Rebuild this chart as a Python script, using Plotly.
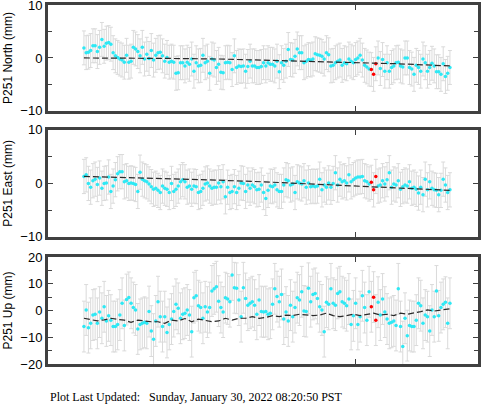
import plotly.graph_objects as go

# daily GPS solutions for station P251, day index from first epoch
n_days = 164
days = list(range(n_days))
flagged = [128, 129, 130]  # outlier epochs drawn in red

north = [
    1.9, 1.0, 1.1, 1.4, 2.3, 2.3, 1.2, 2.0, 3.5, 2.2,
    2.8, 2.9, 2.6, 1.0, 0.4, 0.1, -0.2, -0.4, -0.8, 0.5,
    -0.8, -0.6, 2.0, 1.7, 1.2, 0.4, 2.0, -0.2, 0.7, -0.1,
    1.4, -0.4, 0.5, 1.0, 1.1, 0.4, -0.6, 0.1, -0.8, -0.6,
    -0.8, -2.9, -2.8, -0.9, -0.9, -1.5, -0.8, -1.2, -0.2, -2.5,
    -0.9, -1.5, -1.4, 0.5, -0.9, -0.6, -2.9, -0.2, -0.4, -1.8,
    -1.2, -2.7, -2.8, -0.9, -0.8, -0.9, -2.2, 0.4, -1.8, -1.5,
    -1.6, -1.5, -2.5, -1.6, -0.6, -1.5, -1.5, -1.8, -1.8, -1.6,
    -0.9, -1.5, -0.9,
    -1.2, -1.2, -1.5, -0.6, -2.6, -0.9, -1.4, -0.6, 1.6, -0.3,
    -0.4, 0.3, 1.7, 1.0, 1.0, -0.9, -0.6, -0.3, -0.4, -0.2,
    0.8, 0.6, 0.5, 0.3, -0.2, 1.0, 0.6, -1.5, -1.4, -0.9,
    -0.6, -0.4, -1.4, -0.9, -1.1, -0.2, -0.6, -0.9, -0.3, 0.0,
    0.5, -0.4, -1.4, -1.7, -2.1,
    -2.2, -3.1, -1.1,
    0.0, -2.0, -0.3, -2.5, -0.9, -2.5, -1.8, -1.5, -0.9, -0.8,
    -1.5, -1.7, 0.0, 0.0, -1.8, -2.1, -3.1, -1.4, -1.8, -2.5,
    -0.2, -0.9, -2.5, -1.8, -1.0, -1.5, -2.6, -2.6, -3.1, -1.1,
    -3.5, -2.9, -1.8,
]

east = [
    1.3, 1.6, 0.0, -0.7, 0.5, 0.8, -0.2, 1.0, -0.9, 0.0,
    0.1, 1.2, -1.5, -0.5, 0.7, 1.8, 2.2, 2.2, 0.3, 0.5,
    0.0, 0.1, 0.0, -0.2, -1.5, 2.1, 0.8, 0.5, 0.3, -0.1,
    -0.6, -1.1, -0.9, -1.3, -1.7, -0.5, -0.9, -1.1, -1.7, 0.0,
    -1.5, -1.1, -0.5, 0.3, 0.7, 0.3, -0.7, -0.5, -1.1, -0.5,
    -0.6, -1.7, -1.5, -0.9, -0.1, 0.1, -0.5, -0.9, -0.7, -0.7,
    0.1, -0.6, 0.3, -2.5, -0.7, -1.7, -1.5, -0.6, -1.7, -0.9,
    0.1, 0.0, -1.5, -0.3, -0.9, -0.3, -0.6, -1.2, -1.1, -0.3,
    -1.7, -2.8, -1.3,
    -0.5, -0.6, -0.3, -1.2, -1.5, -1.5, -0.3, 0.7, 0.5, -0.3,
    -0.1, -1.7, 0.3, 0.1, -0.1, 0.5, -0.7, 0.1, -0.6, -0.5,
    -0.6, -0.5, 0.8, -1.2, -0.3, -0.7, 0.1, -0.7, 0.0, 2.0,
    -0.3, 0.8, 0.3, 0.5, 0.1, 1.6, 0.3, 0.7, 1.0, 1.2,
    1.2, 1.3, 0.5, 0.3, -0.1,
    0.2, -1.2, 1.3,
    -0.5, -0.3, 0.5, -0.1, 0.7, 2.0, -0.7, -0.1, -0.3, 0.5,
    -1.1, -0.6, -0.3, -0.5, 0.3, -0.9, -0.7, -1.1, -1.8, -0.7,
    -2.1, 0.8, -1.2, 0.3, -0.9, -1.2, -1.3, -2.1, -1.3, 0.8,
    -0.3, -1.7, -1.2,
]

up = [
    -6.0, 0.2, -6.4, -4.8, -1.7, -1.4, -4.8, -0.6,
    -2.9, 1.4, -3.9, -2.0, -3.6, -6.0, -6.0, -5.2,
    -1.7, 2.7, -5.6, 4.1, 4.9, 2.7, 1.1, 0.2,
    -6.9, -5.2, -4.8, -4.4, -4.8, -0.4, -7.7, -10.7,
    -3.9, 3.3, -2.3, -6.0, -2.3, -8.2, -5.2, -3.2,
    -0.4, 2.3, 0.8, -2.9, -1.4, -1.0, 0.2, -1.7,
    -7.9, 4.8, 5.5, 1.8, 1.1, -2.9, 1.4, -0.6,
    1.1, 7.3, 8.1, 8.9, 3.5, 1.1, -0.6, 4.8, 4.3,
    3.3, 13.3, 8.5, 8.3, 3.9, -2.3, 8.5, 4.5,
    2.0, 2.7, 3.3, 2.0, -1.4, 3.9, -0.4, -0.6, -0.4, -1.4,
    -1.0, 2.3, 8.1, 5.2, 3.3, 6.0, -3.2, -0.6, -3.9, 2.0,
    -2.3, 1.1, 4.8, 3.9, 7.0, -0.2, -0.4, 8.3, 3.3, 6.0,
    6.4, 4.5, 1.4, 0.2, -7.9, 3.1, 2.3, 8.1, 2.7, 2.0,
    6.4, 7.0, 3.3, 2.7, 1.8, 4.3, -5.2, -2.0, 2.7, -5.2,
    -2.3, 5.5, 1.1, -3.6, 7.0,
    1.4, 5.0, -3.6,
    3.1, -1.7, 4.3, -0.6, -3.2, -4.8, -4.4, -3.9, -5.6, 8.1,
    -6.0, -13.5, -2.9, -9.4, -5.6, -6.0, -6.0, -3.6, 2.7, 1.8,
    -4.8, -1.7, -2.3, -7.7, 0.2, -2.3, 7.3, -2.0, 1.1, 2.3,
    3.1, -4.8, 2.7,
]

# one-sigma uncertainties (mm)
sig_north = 3.2
sig_east = 3.2
sig_up = 9.5

# model fit (dashed)
model_days_ne = [0, 20, 40, 60, 80, 100, 120, 140, 163]
north_model = [0.0, 0.0, -0.1, -0.2, -0.4, -0.6, -0.9, -1.1, -1.5]
east_model = [1.3, 1.1, 0.9, 0.6, 0.3, -0.1, -0.5, -0.9, -1.3]

model_days_up = [0, 3, 6, 9, 12, 15, 18, 21, 24, 27, 30, 33, 36, 39, 42, 45, 48, 51, 54, 57,
                 60, 63, 66, 69, 72, 75, 78, 81, 84, 87, 90, 93, 96, 99, 102, 105, 108, 111,
                 114, 117, 120, 123, 126, 129, 132, 135, 138, 141, 144, 147, 150, 153, 156,
                 159, 163]
up_model = [-2.9, -3.5, -3.9, -3.5, -2.9, -3.3, -3.6, -4.4, -3.6, -3.9, -4.2, -4.2, -4.8, -3.6,
            -3.9, -3.0, -4.2, -3.2, -3.6, -4.2, -3.9, -2.9, -3.6, -2.9, -2.9, -2.3, -2.9, -2.6,
            -1.9, -2.3, -1.7, -1.9, -1.4, -1.7, -1.9, -1.7, -1.0, -1.9, -2.3, -1.9, -1.4, -1.9,
            -1.4, -1.0, -1.7, -1.4, -1.9, -1.0, -1.4, -1.0, -0.4, 0.2, -0.2, 0.2, 0.6]

panels = [
    ("P251 North (mm)", north, sig_north, model_days_ne, north_model, 10),
    ("P251 East (mm)", east, sig_east, model_days_ne, east_model, 10),
    ("P251 Up (mm)", up, sig_up, model_days_up, up_model, 20),
]
domains = [[0.705, 1.0], [0.354, 0.652], [0.0, 0.298]]

sans = "Liberation Sans, Arial, sans-serif"

fig = go.Figure()
for i, (title, vals, sig, mdays, mvals, lim) in enumerate(panels):
    xa = "x" if i == 0 else "x%d" % (i + 1)
    ya = "y" if i == 0 else "y%d" % (i + 1)
    good_x = [d for d in days if d not in flagged]
    good_y = [vals[d] for d in good_x]
    bad_y = [vals[d] for d in flagged]
    err = dict(type="constant", value=sig, color="#dadada", thickness=1, width=2)
    fig.add_trace(go.Scatter(x=good_x, y=good_y, mode="markers", xaxis=xa, yaxis=ya,
                             marker=dict(color="#2ee8f4", size=3.5), error_y=err))
    fig.add_trace(go.Scatter(x=flagged, y=bad_y, mode="markers", xaxis=xa, yaxis=ya,
                             marker=dict(color="#ff0000", size=3.5), error_y=err))
    fig.add_trace(go.Scatter(x=mdays, y=mvals, mode="lines", xaxis=xa, yaxis=ya,
                             line=dict(color="#2a2a2a", width=1.2, dash="6px,3px")))

    axis_style = dict(showline=True, linecolor="#404040", linewidth=3, mirror="ticks",
                      ticks="inside", tickcolor="#404040", showgrid=False, zeroline=False,
                      automargin=False)
    fig.layout["xaxis" if i == 0 else "xaxis%d" % (i + 1)] = dict(
        axis_style, range=[-16, 175.5], tickvals=[121], ticklen=5,
        showticklabels=False, anchor=ya)
    fig.layout["yaxis" if i == 0 else "yaxis%d" % (i + 1)] = dict(
        axis_style, range=[-lim, lim], dtick=10, ticklen=5, domain=domains[i],
        anchor=xa, ticklabeloverflow="allow",
        tickfont=dict(family=sans, size=13, color="#000000"),
        minor=dict(dtick=5, ticks="inside", ticklen=4, tickcolor="#404040"),
        title=dict(text=title, font=dict(family=sans, size=12, color="#000000"), standoff=6))

fig.add_annotation(
    text="Plot Last Updated:\u00a0\u00a0\u00a0Sunday, January 30, 2022 08:20:50 PST",
    xref="paper", yref="paper", x=0, y=-0.093, xanchor="left", yanchor="middle",
    showarrow=False, font=dict(family="Liberation Serif", size=12, color="#000000"))

fig.update_layout(
    width=481, height=404, showlegend=False,
    margin=dict(l=48, r=3, t=5, b=40),
    paper_bgcolor="white", plot_bgcolor="white",
    font=dict(family=sans, color="#000000"),
)

# drop the page's default body margin so the figure sits at the window's corner
fig.write_html("out.html", config={"displayModeBar": False},
               post_script="document.body.style.margin='0';")
